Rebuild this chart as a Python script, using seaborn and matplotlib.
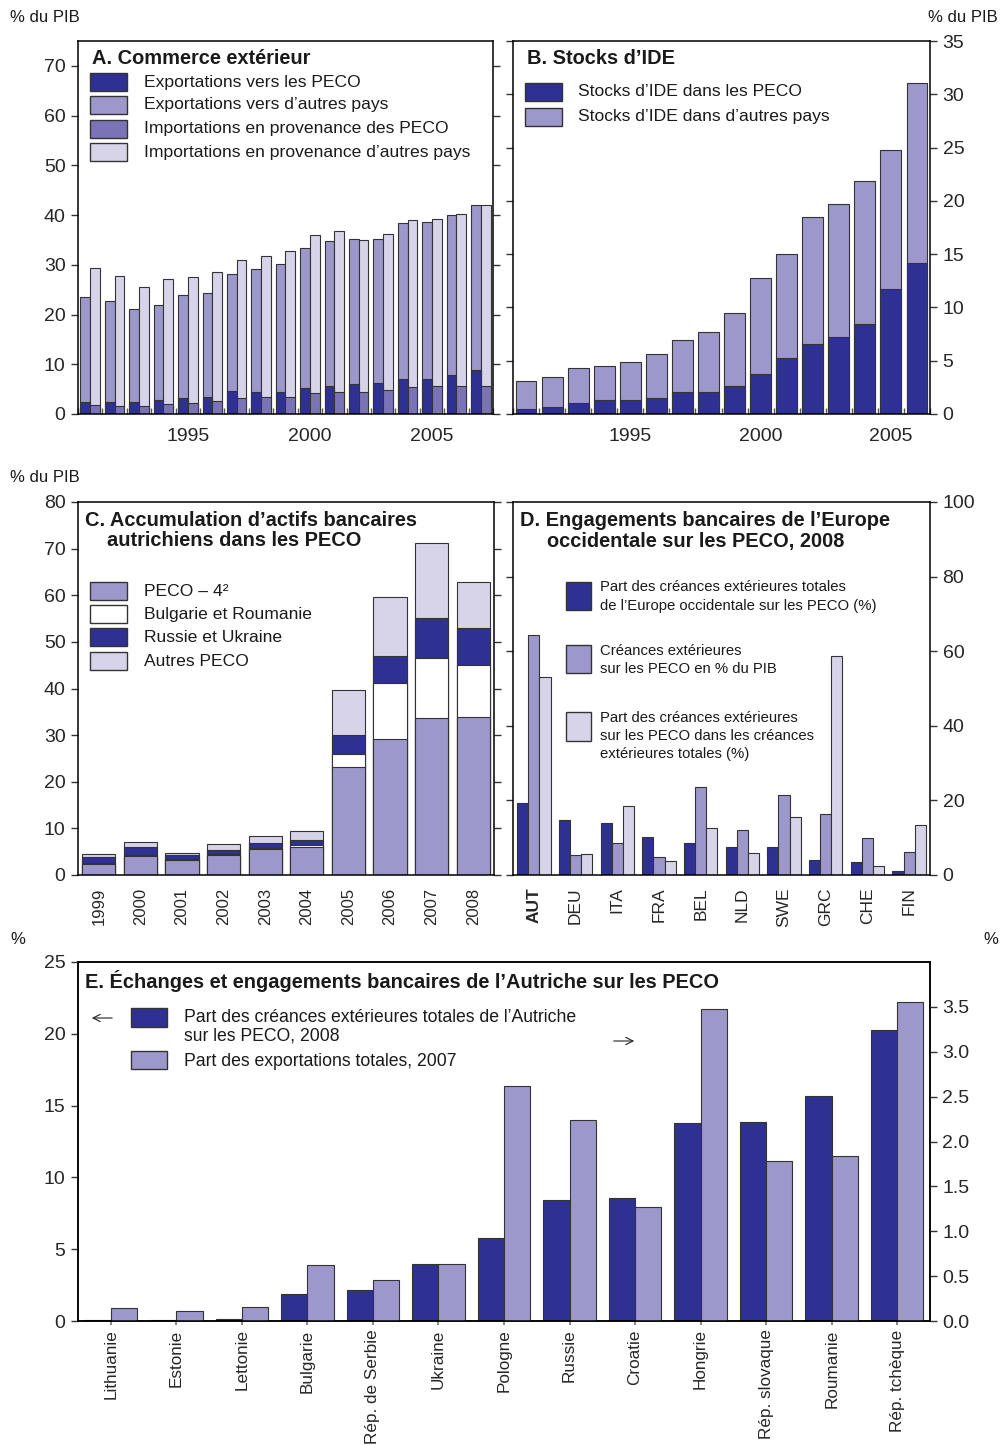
import numpy as np
import pandas as pd
import matplotlib
matplotlib.use("Agg")
import matplotlib.pyplot as plt
from matplotlib.patches import Rectangle, FancyArrowPatch
import seaborn as sns

sns.set_theme(style="white")
plt.rcParams["font.family"] = ["Liberation Sans", "DejaVu Sans"]

# ---------------- data ----------------
# A. Commerce extérieur (% du PIB), 1991-2007
years_a = [str(y) for y in range(1991, 2008)]
exp_peco = [2.4, 2.4, 2.4, 2.75, 3.15, 3.5, 4.6, 4.5, 4.5, 5.15, 5.6, 6.0, 6.2, 7.0, 7.0, 7.85, 8.85]
exp_autres = [21.2, 20.3, 18.7, 19.25, 20.75, 20.9, 23.5, 24.7, 25.7, 28.15, 29.1, 29.1, 28.9, 31.4, 31.6, 32.15, 33.25]
imp_peco = [1.75, 1.6, 1.6, 1.95, 2.2, 2.6, 3.15, 3.35, 3.35, 4.3, 4.4, 4.4, 4.8, 5.4, 5.6, 5.6, 5.7]
imp_autres = [27.65, 26.1, 23.9, 25.15, 25.4, 25.9, 27.85, 28.45, 29.35, 31.6, 32.4, 30.5, 31.3, 33.6, 33.7, 34.6, 36.3]
ticks_a = ["1995", "2000", "2005"]

# B. Stocks d'IDE (% du PIB), 1991-2006
years_b = [str(y) for y in range(1991, 2007)]
ide_peco = [0.45, 0.65, 1.05, 1.3, 1.3, 1.5, 2.05, 2.1, 2.65, 3.75, 5.25, 6.55, 7.2, 8.45, 11.7, 14.2]
ide_autres = [2.6, 2.8, 3.3, 3.2, 3.55, 4.1, 4.85, 5.6, 6.85, 9.0, 9.8, 11.9, 12.5, 13.45, 13.1, 16.9]
ticks_b = ["1995", "2000", "2005"]

# C. Actifs bancaires autrichiens dans les PECO (% du PIB), 1999-2008
years_c = [str(y) for y in range(1999, 2009)]
c_peco4 = [2.4, 4.1, 3.15, 4.2, 5.5, 6.0, 23.2, 29.2, 33.7, 33.9]
c_bul_rou = [0.2, 0.2, 0.2, 0.4, 0.3, 0.5, 2.7, 11.9, 12.9, 11.1]
c_rus_ukr = [1.3, 1.7, 1.0, 0.8, 1.1, 0.95, 4.1, 5.8, 8.6, 8.0]
c_autres = [0.7, 1.0, 0.45, 1.15, 1.4, 1.95, 9.7, 12.7, 15.9, 9.9]

# D. Engagements bancaires de l'Europe occidentale sur les PECO, 2008
pays_d = ["AUT", "DEU", "ITA", "FRA", "BEL", "NLD", "SWE", "GRC", "CHE", "FIN"]
d_part_totale = [19.2, 14.7, 14.0, 10.3, 8.5, 7.5, 7.5, 4.0, 3.5, 1.2]
d_pct_pib = [64.3, 5.4, 8.5, 4.9, 23.7, 12.0, 21.4, 16.3, 10.0, 6.2]
d_part_creances = [53.2, 5.5, 18.4, 3.7, 12.5, 5.8, 15.5, 58.8, 2.3, 13.5]

# E. Échanges et engagements bancaires de l'Autriche sur les PECO
pays_e = ["Lithuanie", "Estonie", "Lettonie", "Bulgarie", "Rép. de Serbie", "Ukraine",
          "Pologne", "Russie", "Croatie", "Hongrie", "Rép. slovaque", "Roumanie", "Rép. tchèque"]
e_creances = [0.1, 0.1, 0.15, 1.9, 2.15, 4.0, 5.75, 8.4, 8.6, 13.8, 13.85, 15.7, 20.25]
e_exports = [0.14, 0.11, 0.155, 0.62, 0.46, 0.63, 2.62, 2.24, 1.27, 3.48, 1.78, 1.84, 3.55]

# ---------------- style ----------------
NAVY = "#2e3192"
LAV = "#9d98cb"
MID = "#7a74b6"
LIGHT = "#d7d4ea"
WHITE = "#ffffff"
EDGE = "#333333"
TITLE_SIZE = 14.4

W, H = 1002, 1445
fig = plt.figure(figsize=(W / 100, H / 100), dpi=100)


def fx(px):
    return px / W


def fy(py):
    return 1 - py / H


def make_ax(l, t, r, b):
    return fig.add_axes([fx(l), fy(b), (r - l) / W, (b - t) / H])


def ftext(x, y, s, size=12.5, weight="normal", ha="left", va="center"):
    fig.text(fx(x), fy(y), s, fontsize=size, fontweight=weight, ha=ha, va=va, color="#1a1a1a")


def swatch(x0, y0, x1, y1, color):
    fig.add_artist(Rectangle((fx(x0), fy(y1)), (x1 - x0) / W, (y1 - y0) / H,
                             transform=fig.transFigure, facecolor=color,
                             edgecolor=EDGE, linewidth=1.0))


def arrow(x0, x1, y):
    fig.add_artist(FancyArrowPatch((fx(x0), fy(y)), (fx(x1), fy(y)),
                                   transform=fig.transFigure, arrowstyle="->",
                                   mutation_scale=13, linewidth=0.8, color="#222222"))


def bars(ax, df, y, order, x="x", hue=None, hue_order=None, palette=None, color=None):
    kw = dict(data=df, x=x, y=y, order=order, width=0.8, saturation=1,
              errorbar=None, edgecolor=EDGE, linewidth=0.8, ax=ax)
    if hue is not None:
        kw.update(hue=hue, hue_order=hue_order, palette=palette, legend=False, dodge=True)
    else:
        kw.update(color=color)
    sns.barplot(**kw)


def frame(ax, left_labels=True):
    for s in ax.spines.values():
        s.set_color("black")
        s.set_linewidth(1.1)
        s.set_visible(True)
    ax.set_xlabel("")
    ax.set_ylabel("")
    ax.tick_params(axis="y", which="major", left=True, right=True,
                   labelleft=left_labels, labelright=not left_labels,
                   direction="out", length=5, width=1, color="#333333",
                   labelsize=14, pad=4)


# ---------------- A ----------------
axA = make_ax(78, 41, 493, 414)
dfA = pd.DataFrame({
    "x": years_a * 2,
    "flux": ["exp"] * len(years_a) + ["imp"] * len(years_a),
    "total": [p + a for p, a in zip(exp_peco, exp_autres)] + [p + a for p, a in zip(imp_peco, imp_autres)],
    "peco": exp_peco + imp_peco,
})
bars(axA, dfA, "total", years_a, hue="flux", hue_order=["exp", "imp"],
     palette={"exp": LAV, "imp": LIGHT})
bars(axA, dfA, "peco", years_a, hue="flux", hue_order=["exp", "imp"],
     palette={"exp": NAVY, "imp": MID})
axA.set_ylim(0, 75)
axA.set_yticks(range(0, 80, 10))
axA.set_xlim(-0.5, len(years_a) - 0.5)
axA.set_xticks([years_a.index(t) for t in ticks_a], ticks_a)
axA.set_xticks(np.arange(-0.5, len(years_a), 1), minor=True)
frame(axA, left_labels=True)
axA.tick_params(axis="x", which="major", bottom=False, labelsize=14, pad=4)
axA.tick_params(axis="x", which="minor", bottom=True, direction="in", length=4, color="#555555")

# ---------------- B ----------------
axB = make_ax(513, 41, 930, 414)
dfB = pd.DataFrame({"x": years_b,
                    "total": [p + a for p, a in zip(ide_peco, ide_autres)],
                    "peco": ide_peco})
bars(axB, dfB, "total", years_b, color=LAV)
bars(axB, dfB, "peco", years_b, color=NAVY)
axB.set_ylim(0, 35)
axB.set_yticks(range(0, 40, 5))
axB.set_xlim(-0.5, len(years_b) - 0.5)
axB.set_xticks([years_b.index(t) for t in ticks_b], ticks_b)
axB.set_xticks(np.arange(-0.5, len(years_b), 1), minor=True)
frame(axB, left_labels=False)
axB.tick_params(axis="x", which="major", bottom=False, labelsize=14, pad=4)
axB.tick_params(axis="x", which="minor", bottom=True, direction="in", length=4, color="#555555")

# ---------------- C ----------------
axC = make_ax(78, 502, 494, 875)
cum1 = np.array(c_peco4)
cum2 = cum1 + np.array(c_bul_rou)
cum3 = cum2 + np.array(c_rus_ukr)
cum4 = cum3 + np.array(c_autres)
dfC = pd.DataFrame({"x": years_c, "c1": cum1, "c2": cum2, "c3": cum3, "c4": cum4})
bars(axC, dfC, "c4", years_c, color=LIGHT)
bars(axC, dfC, "c3", years_c, color=NAVY)
bars(axC, dfC, "c2", years_c, color=WHITE)
bars(axC, dfC, "c1", years_c, color=LAV)
axC.set_ylim(0, 80)
axC.set_yticks(range(0, 90, 10))
axC.set_xlim(-0.5, len(years_c) - 0.5)
frame(axC, left_labels=True)
axC.tick_params(axis="x", bottom=False, labelsize=12, pad=3)
plt.setp(axC.get_xticklabels(), rotation=90, ha="center", va="top")

# ---------------- D ----------------
axD = make_ax(513, 502, 930, 875)
series_d = ["part", "pib", "creances"]
dfD = pd.DataFrame({
    "x": pays_d * 3,
    "serie": [s for s in series_d for _ in pays_d],
    "val": d_part_totale + d_pct_pib + d_part_creances,
})
bars(axD, dfD, "val", pays_d, hue="serie", hue_order=series_d,
     palette={"part": NAVY, "pib": LAV, "creances": LIGHT})
axD.set_ylim(0, 100)
axD.set_yticks(range(0, 120, 20))
axD.set_xlim(-0.5, len(pays_d) - 0.5)
frame(axD, left_labels=False)
axD.tick_params(axis="x", bottom=False, labelsize=12.5, pad=3)
plt.setp(axD.get_xticklabels(), rotation=90, ha="center", va="top")
axD.get_xticklabels()[0].set_fontweight("bold")

# ---------------- E ----------------
axE = make_ax(78, 962, 930, 1321)
axE2 = axE.twinx()
series_e = ["creances", "exports"]
pal_e = {"creances": NAVY, "exports": LAV}
# each series is drawn on its own y scale; the other series is left empty (NaN)
dfE_left = pd.DataFrame({"x": pays_e * 2,
                         "serie": ["creances"] * len(pays_e) + ["exports"] * len(pays_e),
                         "val": e_creances + [np.nan] * len(pays_e)})
dfE_right = pd.DataFrame({"x": pays_e * 2,
                          "serie": ["creances"] * len(pays_e) + ["exports"] * len(pays_e),
                          "val": [np.nan] * len(pays_e) + e_exports})
bars(axE, dfE_left, "val", pays_e, hue="serie", hue_order=series_e, palette=pal_e)
bars(axE2, dfE_right, "val", pays_e, hue="serie", hue_order=series_e, palette=pal_e)
axE.set_ylim(0, 25)
axE.set_yticks(range(0, 30, 5))
axE2.set_ylim(0, 4)
axE2.set_yticks(np.arange(0, 4.0, 0.5))
axE2.set_yticklabels([f"{v:.1f}" for v in np.arange(0, 4.0, 0.5)])
axE.set_xlim(-0.5, len(pays_e) - 0.5)
axE2.set_xlim(-0.5, len(pays_e) - 0.5)
for a in (axE, axE2):
    for s in a.spines.values():
        s.set_color("black")
        s.set_linewidth(1.1)
    a.set_xlabel("")
    a.set_ylabel("")
axE.tick_params(axis="y", left=True, right=False, labelleft=True, direction="out",
                length=5, width=1, color="#333333", labelsize=14, pad=4)
axE2.tick_params(axis="y", left=False, right=True, labelright=True, direction="out",
                 length=5, width=1, color="#333333", labelsize=14, pad=4)
axE.tick_params(axis="x", bottom=True, direction="out", length=3, color="#777777",
                labelsize=12.3, pad=3)
axE2.tick_params(axis="x", bottom=False, top=False, labelbottom=False)
plt.setp(axE.get_xticklabels(), rotation=90, ha="center", va="top")

# ---------------- titles, units, legends ----------------
ftext(10, 17, "% du PIB", size=12)
ftext(998, 17, "% du PIB", size=12, ha="right")
ftext(10, 478, "% du PIB", size=12)
ftext(10, 940, "%", size=12)
ftext(998, 940, "%", size=12, ha="right")

ftext(92, 59, "A. Commerce extérieur", size=TITLE_SIZE, weight="bold")
ftext(527, 59, "B. Stocks d’IDE", size=TITLE_SIZE, weight="bold")
ftext(85, 520, "C. Accumulation d’actifs bancaires", size=TITLE_SIZE, weight="bold")
ftext(107, 541, "autrichiens dans les PECO", size=TITLE_SIZE, weight="bold")
ftext(520, 520, "D. Engagements bancaires de l’Europe", size=TITLE_SIZE, weight="bold")
ftext(547, 541, "occidentale sur les PECO, 2008", size=TITLE_SIZE, weight="bold")
ftext(85, 981, "E. Échanges et engagements bancaires de l’Autriche sur les PECO",
      size=TITLE_SIZE, weight="bold")

# legend A
for yc, col, lab in zip([82, 105, 129, 152], [NAVY, LAV, MID, LIGHT],
                        ["Exportations vers les PECO", "Exportations vers d’autres pays",
                         "Importations en provenance des PECO",
                         "Importations en provenance d’autres pays"]):
    swatch(90, yc - 9, 127, yc + 9, col)
    ftext(144, yc, lab, size=12.6)

# legend B
for yc, col, lab in zip([92, 117], [NAVY, LAV],
                        ["Stocks d’IDE dans les PECO", "Stocks d’IDE dans d’autres pays"]):
    swatch(525, yc - 9, 562, yc + 9, col)
    ftext(578, yc, lab, size=12.6)

# legend C
for yc, col, lab in zip([591, 614, 637, 661], [LAV, WHITE, NAVY, LIGHT],
                        ["PECO – 4²", "Bulgarie et Roumanie", "Russie et Ukraine", "Autres PECO"]):
    swatch(90, yc - 9, 127, yc + 9, col)
    ftext(144, yc, lab, size=12.6)

# legend D
swatch(566, 582, 591, 610, NAVY)
ftext(600, 587, "Part des créances extérieures totales", size=10.7)
ftext(600, 606, "de l’Europe occidentale sur les PECO (%)", size=10.7)
swatch(566, 645, 591, 673, LAV)
ftext(600, 651, "Créances extérieures", size=10.7)
ftext(600, 669, "sur les PECO en % du PIB", size=10.7)
swatch(566, 712, 591, 741, LIGHT)
ftext(600, 718, "Part des créances extérieures", size=10.7)
ftext(600, 736, "sur les PECO dans les créances", size=10.7)
ftext(600, 754, "extérieures totales (%)", size=10.7)

# legend E
swatch(131, 1008, 167, 1027, NAVY)
ftext(184, 1018, "Part des créances extérieures totales de l’Autriche", size=12.7)
ftext(184, 1036, "sur les PECO, 2008", size=12.7)
swatch(131, 1051, 167, 1069, LAV)
ftext(184, 1061, "Part des exportations totales, 2007", size=12.7)
arrow(115, 89, 1018)
arrow(611, 637, 1041)

fig.savefig("out.png", dpi=100)
